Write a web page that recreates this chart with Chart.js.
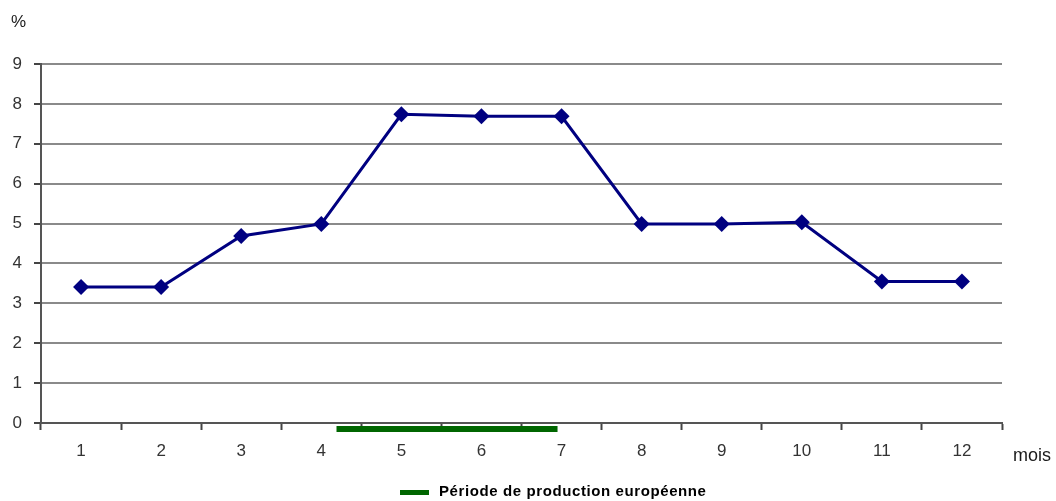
<!DOCTYPE html>
<html>
<head>
<meta charset="utf-8">
<script src="https://cdn.jsdelivr.net/npm/chart.js@4/dist/chart.umd.min.js"></script>
<style>
  html, body { margin: 0; padding: 0; background: #ffffff; }
  #wrap { width: 1056px; height: 501px; }
</style>
</head>
<body>
<div id="wrap"><canvas id="chart" width="1056" height="501"></canvas></div>
<script>
// Months of the year and monthly share (%)
const months = ['1', '2', '3', '4', '5', '6', '7', '8', '9', '10', '11', '12'];
const monthlyShare = [3.41, 3.41, 4.69, 4.99, 7.74, 7.69, 7.69, 4.99, 4.99, 5.03, 3.55, 3.55];
// European production period, in month units (start, end)
const productionPeriod = [4.19, 6.95];
const productionLabel = 'Période de production européenne';
const yTicks = [0, 1, 2, 3, 4, 5, 6, 7, 8, 9];

const FONT = '"Liberation Sans", Arial, sans-serif';

// Axis units and a legend for the production period
const extras = {
  id: 'extras',
  afterDraw(chart) {
    const ctx = chart.ctx;
    ctx.save();
    ctx.fillStyle = '#1a1a1a';
    ctx.font = '17px ' + FONT;
    ctx.textBaseline = 'middle';
    ctx.textAlign = 'left';
    ctx.fillText('%', 11, 22);
    ctx.font = '18px ' + FONT;
    ctx.fillText('mois', 1013, 456);

    const ds = chart.data.datasets[1];
    ctx.font = 'bold 15px ' + FONT;
    ctx.letterSpacing = '0.6px';
    const sw = 29, gap = 10;
    const x0 = 400;
    const yc = 492;
    ctx.fillStyle = ds.borderColor;
    ctx.fillRect(x0, yc - 2, sw, 5);
    ctx.fillStyle = '#000000';
    ctx.fillText(ds.label, x0 + sw + gap, yc);
    ctx.restore();
  }
};

new Chart(document.getElementById('chart'), {
  type: 'line',
  data: {
    labels: months,
    datasets: [
      {
        label: '%',
        data: monthlyShare,
        xAxisID: 'x',
        borderColor: '#000080',
        backgroundColor: '#000080',
        borderWidth: 3,
        pointStyle: 'rectRot',
        pointRadius: 8,
        pointBorderWidth: 0,
        tension: 0
      },
      {
        label: productionLabel,
        data: productionPeriod.map(m => ({ x: m, y: -0.15 })),
        xAxisID: 'xp',
        borderColor: '#006600',
        borderWidth: 6,
        borderCapStyle: 'butt',
        pointRadius: 0,
        clip: false
      }
    ]
  },
  options: {
    responsive: false,
    animation: false,
    devicePixelRatio: 1,
    layout: { padding: { left: 0, right: 54, top: 64, bottom: 0 } },
    plugins: { legend: { display: false }, tooltip: { enabled: false } },
    scales: {
      x: {
        type: 'category',
        offset: true,
        grid: {
          offset: true,
          drawOnChartArea: false,
          drawTicks: true,
          tickLength: 7,
          tickWidth: 2,
          tickColor: '#444444'
        },
        border: { color: '#555555', width: 2 },
        ticks: {
          color: '#333333',
          font: { family: FONT, size: 17 },
          padding: 11,
          maxRotation: 0
        },
        afterFit(scale) { scale.height = 78; }
      },
      xp: {
        type: 'linear',
        display: false,
        min: 0.5,
        max: 12.5
      },
      y: {
        min: 0,
        max: 9,
        afterBuildTicks(scale) { scale.ticks = yTicks.map(v => ({ value: v })); },
        grid: {
          color: '#8a8a8a',
          lineWidth: 2,
          tickLength: 7,
          tickColor: '#444444',
          tickWidth: 2
        },
        border: { color: '#555555', width: 2 },
        ticks: {
          color: '#333333',
          font: { family: FONT, size: 17 },
          padding: 12
        },
        afterFit(scale) { scale.width = 41; }
      }
    }
  },
  plugins: [extras]
});
</script>
</body>
</html>
